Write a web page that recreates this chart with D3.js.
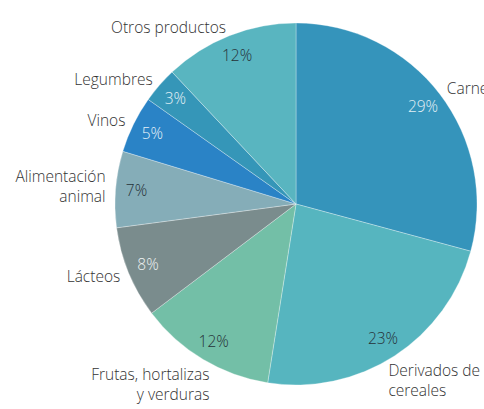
<!DOCTYPE html>
<html>
<head>
<meta charset="utf-8">
<script src="https://cdn.jsdelivr.net/npm/d3@7"></script>
<style>
  body { margin: 0; background: #fff; }
  text { font-family: "Open Sans", sans-serif; font-weight: 300; }
</style>
</head>
<body>
<div id="chart"></div>
<script>
const categories = ["Carne", "Derivados de cereales", "Frutas, hortalizas y verduras", "Lácteos",
  "Alimentación animal", "Vinos", "Legumbres", "Otros productos"];
// label lines as shown in the picture
const labelLines = [["Carne"], ["Derivados de", "cereales"], ["Frutas, hortalizas", "y verduras"], ["Lácteos"],
  ["Alimentación", "animal"], ["Vinos"], ["Legumbres"], ["Otros productos"]];
const values = [29.2, 23.3, 12.2, 8.2, 6.8, 5.1, 3.2, 12.0];
const colors = ["#3594bb", "#56b5bf", "#73bfa7", "#7a8c8d", "#85adb8", "#2a83c6", "#3596b8", "#59b5c0"];
const pctColors = ["#e3f0f6", "#263238", "#263238", "#eef2f2", "#263238", "#e3f0f8", "#e3f0f6", "#263238"];

const width = 484, height = 409;
const cx = 296, cy = 204, radius = 181;
const lineH = 20;

const svg = d3.select("#chart").append("svg")
    .attr("width", width)
    .attr("height", height)
    .attr("viewBox", [0, 0, width, height]);

const pie = d3.pie().sort(null).value(i => values[i]);
const arcs = pie(d3.range(values.length));
const arc = d3.arc().innerRadius(0).outerRadius(radius);
const pctArc = d3.arc().innerRadius(160).outerRadius(160);
const outArc = d3.arc().innerRadius(190).outerRadius(190);
const fmt = v => Math.round(v) + "%";
const mid = d => (d.startAngle + d.endAngle) / 2;

const g = svg.append("g").attr("transform", `translate(${cx},${cy})`);

g.selectAll("path")
  .data(arcs)
  .join("path")
    .attr("d", arc)
    .attr("fill", d => colors[d.data])
    .attr("stroke", "#ffffff")
    .attr("stroke-opacity", 0.5)
    .attr("stroke-width", 0.6);

g.selectAll("text.pct")
  .data(arcs)
  .join("text")
    .attr("class", "pct")
    .attr("transform", d => `translate(${pctArc.centroid(d)})`)
    .attr("text-anchor", "middle")
    .attr("dy", "0.35em")
    .attr("font-size", 15.5)
    .attr("fill", d => pctColors[d.data])
    .text(d => fmt(values[d.data]));

// outer labels; multi-line ones are nudged down/inward near the bottom
function labelPos(d) {
  const [x, y] = outArc.centroid(d);
  const n = labelLines[d.data].length - 1;
  const c = -Math.cos(mid(d));
  const side = Math.sin(mid(d)) >= 0 ? 1 : -1;
  return [x - side * 13 * n * c, y + lineH * n * c];
}

g.selectAll("text.lbl")
  .data(arcs)
  .join("text")
    .attr("class", "lbl")
    .attr("transform", d => `translate(${labelPos(d)})`)
    .attr("text-anchor", d => mid(d) < Math.PI ? "start" : "end")
    .attr("font-size", 15.5)
    .attr("fill", "#333")
  .selectAll("tspan")
  .data(d => labelLines[d.data].map((t, j, a) => ({t, j, n: a.length})))
  .join("tspan")
    .attr("x", 0)
    .attr("y", l => (l.j - (l.n - 1) / 2) * lineH)
    .attr("dy", "0.35em")
    .text(l => l.t);
</script>
</body>
</html>
